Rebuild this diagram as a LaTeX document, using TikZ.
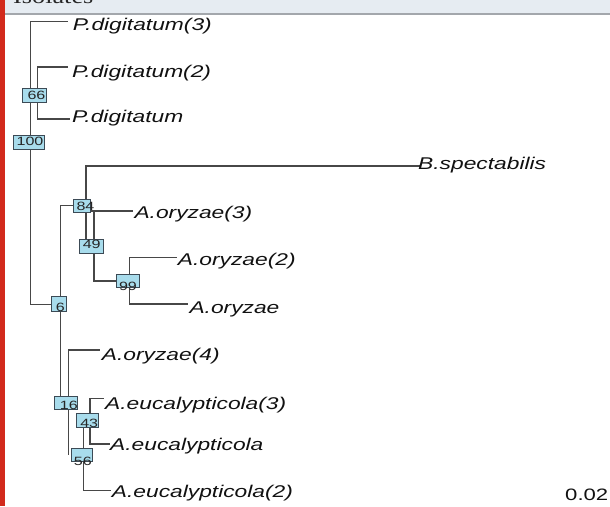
\documentclass[tikz,border=0pt]{standalone}
\usepackage{fontspec}
\setmainfont{Liberation Sans}
\newfontfamily\tipfont[FakeStretch=1.34]{Liberation Sans}
\newfontfamily\headfont[FakeStretch=1.25]{Liberation Serif}
\definecolor{branch}{HTML}{474747}
\definecolor{bootfill}{HTML}{A8DCEC}
\definecolor{bootedge}{HTML}{3C4A55}
\definecolor{headbg}{HTML}{E6ECF2}
\definecolor{headrule}{HTML}{A3A7AC}
\definecolor{sidebar}{HTML}{D22A1C}
\definecolor{tiptext}{HTML}{111111}
\pgfdeclarelayer{paper}
\pgfdeclarelayer{tree}
\pgfsetlayers{paper,tree,main}
\begin{document}
\begin{tikzpicture}[x=1pt,y=-1pt,
  branch/.style={draw=branch,line width=1.35pt},
  boot/.style={draw=bootedge,fill=bootfill,line width=0.9pt,inner sep=0pt},
  bootnum/.style={inner sep=0pt,text=black!85,font=\tipfont\fontsize{12}{12}\selectfont},
  tip/.style={anchor=base west,inner sep=0pt,text=tiptext,font=\tipfont\itshape\fontsize{17}{17}\selectfont},
  scalebar/.style={anchor=base west,inner sep=0pt,text=tiptext,font=\tipfont\fontsize{16.5}{16.5}\selectfont}]
\useasboundingbox (0,0) rectangle (610,506);
\clip (0,0) rectangle (610,506);

\begin{pgfonlayer}{paper}
\fill[white] (0,0) rectangle (610,506);
% header strip with the section title
\fill[headbg] (0,0) rectangle (610,12.5);
\draw[headrule,line width=2pt] (0,13.7) -- (610,13.7);
\fill[sidebar] (0,0) rectangle (4.8,506);
\end{pgfonlayer}
\node[anchor=base west,inner sep=0pt,text=black!85,font=\headfont\fontsize{21}{21}\selectfont] (title) at (13,3.8) {Isolates};

% junction points of the clades
\coordinate (k100) at (30.7,142.2);
\coordinate (k66)  at (37.7,95.5);
\coordinate (k6)   at (60.7,304.2);
\coordinate (k84)  at (86,205.8);
\coordinate (k49)  at (94,246.3);
\coordinate (k99)  at (129.3,281);
\coordinate (k16)  at (68.3,402.7);
\coordinate (k43)  at (90,420.3);
\coordinate (k56)  at (83.3,455);

% ends of the terminal branches
\coordinate (t-pd3) at (68,21.7);
\coordinate (t-pd2) at (68,67);
\coordinate (t-pd)  at (70,119);
\coordinate (t-bsp) at (421,166);
\coordinate (t-ao3) at (133.3,211);
\coordinate (t-ao2) at (176.7,257.3);
\coordinate (t-ao)  at (188.3,304);
\coordinate (t-ao4) at (100,350);
\coordinate (t-ae3) at (104.3,398.3);
\coordinate (t-ae)  at (110,444);
\coordinate (t-ae2) at (111,490.7);

% bootstrap boxes
\node[boot,minimum width=30.7pt,minimum height=14pt,
  label={[bootnum,xshift=1.3pt,yshift=0.5pt]center:100}] (b100) at (28.7,142.2) {};
\node[boot,minimum width=24pt,minimum height=14.4pt,
  label={[bootnum,xshift=1.8pt,yshift=-0.3pt]center:66}] (b66) at (34.7,95.5) {};
\node[boot,minimum width=14.3pt,minimum height=15pt,
  label={[bootnum,xshift=1.5pt,yshift=-3pt]center:6}] (b6) at (58.8,304.2) {};
\node[boot,minimum width=16.7pt,minimum height=13pt,
  label={[bootnum,xshift=3.8pt,yshift=-0.5pt]center:84}] (b84) at (81.7,205.8) {};
\node[boot,minimum width=24pt,minimum height=14pt,
  label={[bootnum,xshift=0.4pt,yshift=1.8pt]center:49}] (b49) at (91.3,246.3) {};
\node[boot,minimum width=22.6pt,minimum height=13.4pt,
  label={[bootnum,xshift=0pt,yshift=-5.7pt]center:99}] (b99) at (128,281) {};
\node[boot,minimum width=23pt,minimum height=13.3pt,
  label={[bootnum,xshift=3pt,yshift=-2.8pt]center:16}] (b16) at (65.8,402.7) {};
\node[boot,minimum width=22.7pt,minimum height=14pt,
  label={[bootnum,xshift=1.9pt,yshift=-2.9pt]center:43}] (b43) at (87.3,420.3) {};
\node[boot,minimum width=21.7pt,minimum height=13.4pt,
  label={[bootnum,xshift=1pt,yshift=-6.7pt]center:56}] (b56) at (81.8,455) {};

% taxon names
\node[tip] (pd3) at (72.7,30.7)   {P.digitatum(3)};
\node[tip] (pd2) at (72,77)       {P.digitatum(2)};
\node[tip] (pd)  at (72,122.7)    {P.digitatum};
\node[tip] (ao3) at (134.3,218.3) {A.oryzae(3)};
\node[tip] (ao2) at (177.7,265.7) {A.oryzae(2)};
\node[tip] (ao)  at (189.3,313.3) {A.oryzae};
\node[tip] (ao4) at (101.7,360)   {A.oryzae(4)};
\node[tip] (ae3) at (105,409.3)   {A.eucalypticola(3)};
\node[tip] (ae)  at (110,450)     {A.eucalypticola};
\node[tip] (ae2) at (111.7,497.7) {A.eucalypticola(2)};
\node[tip] (bsp) at (418,169.3)   {B.spectabilis};
\node[scalebar] (scale) at (565,500.7) {0.02};

% branches, kept underneath the boxes and names
\begin{pgfonlayer}{tree}
\draw[branch] (k100) |- (t-pd3);
\draw[branch] (k100) |- (b6.west);
\draw[branch] (k66) |- (t-pd2);
\draw[branch] (k66) |- (t-pd);
\draw[branch] (k6) |- (b84.west);
\draw[branch] (k6) -- (k6 |- b16.north);
\draw[branch] (k84) |- (t-bsp);
\draw[branch] (k84) -- (k84 |- b49.north);
\draw[branch] (b84.east |- t-ao3) -- (k49 |- t-ao3);
\draw[branch] (k49) |- (t-ao3);
\draw[branch] (k49) |- (b99.west);
\draw[branch] (k99) |- (t-ao2);
\draw[branch] (k99) |- (t-ao);
\draw[branch] (k16) |- (t-ao4);
\draw[branch] (k16) -- (k16 |- b56.center);
\draw[branch] (k43) |- (t-ae3);
\draw[branch] (k43) |- (t-ae);
\draw[branch] (k56 |- b43.south) -- (k56) |- (t-ae2);
\end{pgfonlayer}
\end{tikzpicture}
\end{document}
